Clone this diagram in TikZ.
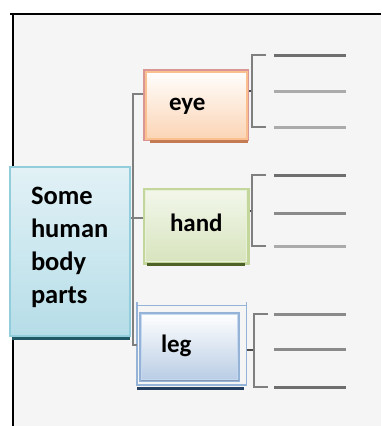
\documentclass[tikz,border=0pt]{standalone}
\usepackage{fontspec}
\setmainfont{Carlito}
\usetikzlibrary{calc}

\definecolor{panel}{HTML}{F5F5F5}
\definecolor{conn}{HTML}{7F7F7F}
\definecolor{rootedge}{HTML}{92CDDC}
\definecolor{rootfill}{HTML}{B6DDE8}
\definecolor{rootbar}{HTML}{215967}
\definecolor{eyeedge}{HTML}{D99694}
\definecolor{eyeinner}{HTML}{FAC08F}
\definecolor{eyefill}{HTML}{FBD4B4}
\definecolor{eyebar}{HTML}{C47A52}
\definecolor{handedge}{HTML}{C3D69B}
\definecolor{handinner}{HTML}{E8F0D8}
\definecolor{handfill}{HTML}{D7E4BD}
\definecolor{handbar}{HTML}{4F6228}
\definecolor{legedge}{HTML}{95B3D7}
\definecolor{leginner}{HTML}{C6D9F1}
\definecolor{legfill}{HTML}{B8CCE4}
\definecolor{legbar}{HTML}{243F60}
\definecolor{legshadow}{HTML}{8497B0}
\definecolor{leafdark}{HTML}{6E6E6E}
\definecolor{leafmid}{HTML}{8A8A8A}
\definecolor{leaflight}{HTML}{ABABAB}

\tikzset{
  boxtext/.style={font=\fontsize{25}{33}\selectfont\bfseries, inner sep=0pt,
    text height=16pt, text depth=6pt, align=left},
  connector/.style={draw=conn, line width=2pt},
  stub/.style={draw=black!70, line width=2.5pt},
  bracketline/.style={draw=conn, line width=2pt},
  leaf/.style={line width=3pt},
}

\begin{document}
\begin{tikzpicture}[x=1pt,y=-1pt]
\useasboundingbox (0,0) rectangle (381,426);
\fill[white] (0,0) rectangle (381,426);
\fill[panel] (14,15) rectangle (381,426);
% frame
\draw[black, line width=2.5pt] (10,14) -- (381,14);
\draw[black, line width=2.5pt] (13,14) -- (13,426);

% root box
\node[boxtext, font=\fontsize{26.5}{33}\selectfont\bfseries,
      draw=rootedge, line width=2.5pt, top color=white!60!rootfill,
      bottom color=rootfill, minimum width=120pt, minimum height=169pt,
      text width=78pt, inner xsep=21pt, text height=18pt, text depth=113pt]
  (root) at (70,251.5) {Some\\human\\body\\parts};
\draw[rootbar, line width=3pt] (12,338.5) -- (130,338.5);

% eye box
\node[boxtext, draw=eyeedge, line width=2pt, top color=white, bottom color=eyefill,
      minimum width=104pt, minimum height=70pt, text width=54pt, inner xsep=25pt]
  (eye) at (196,105) {eye};
\draw[eyeinner, line width=2pt] ($(eye.north west)+(2.5,2.5)$) rectangle ($(eye.south east)+(-2.5,-2.5)$);
\draw[eyebar, line width=2.5pt] (150,141.5) -- (248,141.5);

% hand box
\node[boxtext, draw=handedge, line width=3pt, top color=white!70!handfill, bottom color=handfill,
      minimum width=104pt, minimum height=74pt, text width=52pt, inner xsep=26pt]
  (hand) at (196,226) {hand};
\draw[handinner, line width=1pt] ($(hand.north west)+(3,3)$) rectangle ($(hand.south east)+(-3,-3)$);
\draw[handbar, line width=3pt] (147,264.5) -- (245,264.5);

% leg box with its outer frame
\draw[legedge, line width=1.5pt] (137,302) -- (137,385) -- (246.5,385) -- (246.5,302);
\draw[legedge, line width=1.5pt] (137,305.5) -- (246.5,305.5);
\node[boxtext, draw=legedge, line width=2.5pt, top color=white, bottom color=legfill,
      minimum width=99pt, minimum height=68pt, text width=57pt, inner xsep=21pt]
  (leg) at (189.5,347) {leg};
\draw[leginner, line width=1pt] ($(leg.north west)+(3,3)$) rectangle ($(leg.south east)+(-3,-3)$);
\draw[legshadow, line width=1.5pt] (141,380.5) -- (239,380.5);
\draw[legbar, line width=3pt] (137,388) -- (244,388);

% connectors from the root to the parts
\coordinate (jn) at (133,218);
\draw[connector] (root.east |- jn) -- (jn);
\draw[connector] ([yshift=11pt]eye.west) -| (jn) |- (137,345);
\draw[connector] (jn) -- (hand.west |- jn);

% brackets with empty leaf lines
\coordinate (eyeB) at (252,91);
\draw[stub] ([yshift=14pt]eye.east) -- (eyeB);
\draw[bracketline] (266,55) -| (252,127) -- (266,127);
\draw[leaf, leafdark]  (274,55)  -- (346,55);
\draw[leaf, leaflight] (274,91)  -- (346,91);
\draw[leaf, leaflight] (274,127) -- (346,127);

\coordinate (handB) at (252,211);
\draw[stub] ([yshift=15pt]hand.east) -- (handB);
\draw[bracketline] (266,175) -| (252,246) -- (266,246);
\draw[leaf, leafdark]  (274,175) -- (346,175);
\draw[leaf, leafmid]   (274,213) -- (346,213);
\draw[leaf, leaflight] (274,246.5) -- (346,246.5);

\coordinate (legB) at (254,350);
\draw[stub] (246.5,350) -- (legB);
\draw[bracketline] (268,314) -| (254,387) -- (268,387);
\draw[leaf, leafmid]  (274,314) -- (346,314);
\draw[leaf, leafmid]  (274,349) -- (346,349);
\draw[leaf, leafdark] (274,387) -- (346,387);
\end{tikzpicture}
\end{document}
